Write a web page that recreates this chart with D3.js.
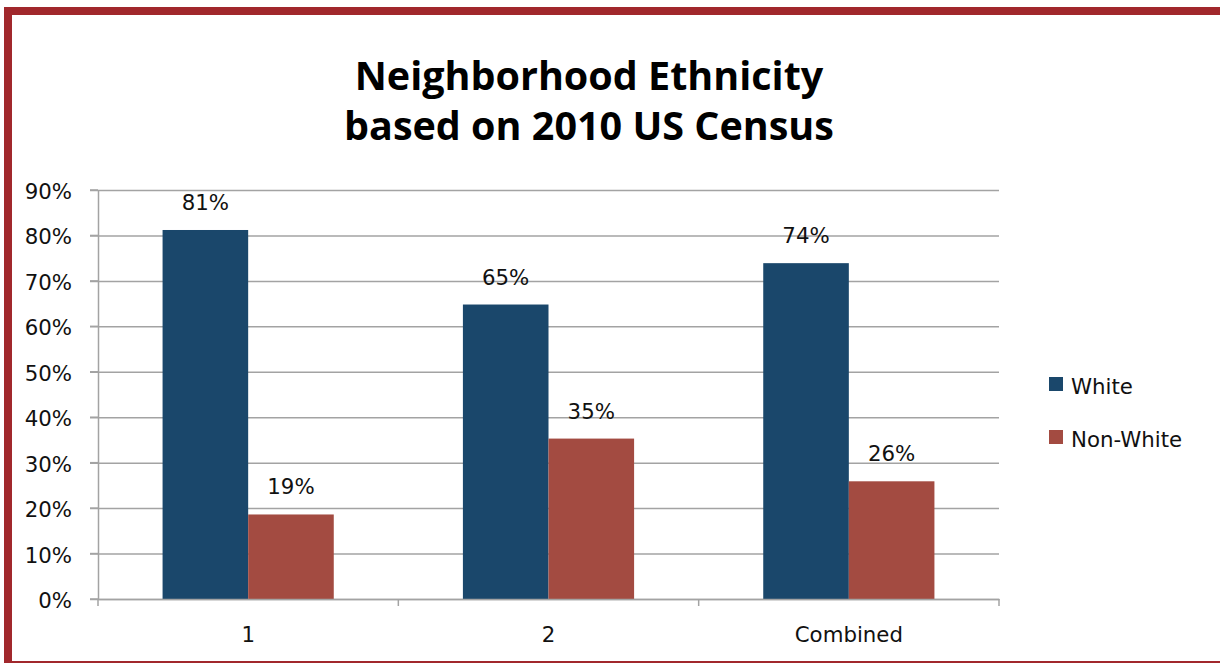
<!DOCTYPE html>
<html><head><meta charset="utf-8">
<script src="https://cdn.jsdelivr.net/npm/d3@7"></script>
<style>
html,body{margin:0;padding:0;background:#fff;}
svg{display:block;}
</style></head>
<body>
<svg id="chart" width="1220" height="663"></svg>
<script>
const categories = ["1", "2", "Combined"];
const seriesNames = ["White", "Non-White"];
const whiteValues = [81.2, 64.8, 73.9];
const nonWhiteValues = [18.6, 35.3, 25.9];
const yTicks = [0, 10, 20, 30, 40, 50, 60, 70, 80, 90];
const titleLines = ["Neighborhood Ethnicity", "based on 2010 US Census"];
const colors = ["#1a476b", "#a34b41"];

(function () {
const svg = d3.select("#chart");
const font = "'DejaVu Sans', sans-serif";
const fs = 21.3;

// border
svg.append("rect").attr("x", 8).attr("y", 11).attr("width", 1300).attr("height", 654)
  .attr("fill", "none").attr("stroke", "#a1282c").attr("stroke-width", 8);

const pLeft = 98, pRight = 999, pTop = 190, pBottom = 599;
const y = d3.scaleLinear().domain([0, 90]).range([pBottom, pTop]);
const x0 = d3.scaleBand().domain(categories).range([pLeft, pRight]).padding(0);
const bw = x0.bandwidth();
const x1 = d3.scaleBand().domain(seriesNames).range([bw * 0.215, bw * 0.785]).padding(0);

// gridlines
const grid = svg.append("g").attr("transform", `translate(${pRight},0)`)
  .call(d3.axisLeft(y).tickValues(yTicks).tickSize(pRight - 90).tickFormat(""));
grid.select(".domain").remove();
grid.selectAll("line").attr("stroke", "#a3a3a3").attr("stroke-width", 1.5);

// y axis
const ya = svg.append("g").attr("transform", `translate(${pLeft},0)`)
  .call(d3.axisLeft(y).tickValues(yTicks).tickSize(0).tickPadding(26).tickFormat(d => d + "%"));
ya.select(".domain").attr("stroke", "#a3a3a3").attr("stroke-width", 1.5);
ya.selectAll("text").attr("font-family", font).attr("font-size", fs).attr("fill", "#111").attr("dy", "0.4em");

// bars
const data = categories.map((c, i) => ({cat: c, vals: [
  {s: seriesNames[0], v: whiteValues[i]}, {s: seriesNames[1], v: nonWhiteValues[i]}]}));
const groups = svg.append("g").selectAll("g").data(data).join("g")
  .attr("transform", d => `translate(${x0(d.cat)},0)`);
groups.selectAll("rect").data(d => d.vals).join("rect")
  .attr("x", d => x1(d.s)).attr("width", x1.bandwidth())
  .attr("y", d => y(d.v)).attr("height", d => y(0) - y(d.v))
  .attr("fill", (d, i) => colors[i]);
groups.selectAll("text").data(d => d.vals).join("text")
  .attr("x", d => x1(d.s) + x1.bandwidth() / 2).attr("y", d => y(d.v) - 20)
  .attr("text-anchor", "middle").attr("font-family", font).attr("font-size", fs)
  .attr("fill", "#111").text(d => Math.round(d.v) + "%");

// x axis
const xa = svg.append("g").attr("transform", `translate(0,${pBottom})`)
  .call(d3.axisBottom(x0).tickSize(0).tickPadding(28));
xa.select(".domain").attr("stroke", "#a3a3a3").attr("stroke-width", 1.5);
xa.selectAll("text").attr("font-family", font).attr("font-size", fs).attr("fill", "#111");
// category boundary ticks
const bounds = categories.map(c => x0(c)).concat([x0(categories[categories.length - 1]) + bw]);
svg.append("g").selectAll("line").data(bounds).join("line")
  .attr("x1", d => d).attr("x2", d => d).attr("y1", pBottom).attr("y2", pBottom + 7)
  .attr("stroke", "#a3a3a3").attr("stroke-width", 1.5);
// y ticks
svg.append("g").selectAll("line").data(yTicks).join("line")
  .attr("x1", 90).attr("x2", pLeft).attr("y1", d => y(d)).attr("y2", d => y(d))
  .attr("stroke", "#a3a3a3").attr("stroke-width", 1.5);

// title
const title = svg.append("text").attr("text-anchor", "middle")
  .attr("font-family", "'Open Sans', sans-serif").attr("font-weight", "bold").attr("font-size", 39.5).attr("fill", "#000");
title.selectAll("tspan").data(titleLines).join("tspan")
  .attr("x", 589).attr("y", (d, i) => 90 + i * 50).text(d => d);

// legend
const legend = svg.append("g").selectAll("g").data(seriesNames).join("g")
  .attr("transform", (d, i) => `translate(1049,${377 + i * 53})`);
legend.append("rect").attr("width", 14).attr("height", 14).attr("fill", (d, i) => colors[i]);
legend.append("text").attr("x", 22).attr("y", 17).attr("font-family", font).attr("font-size", fs)
  .attr("fill", "#111").text(d => d);
})();
</script>
</body></html>
